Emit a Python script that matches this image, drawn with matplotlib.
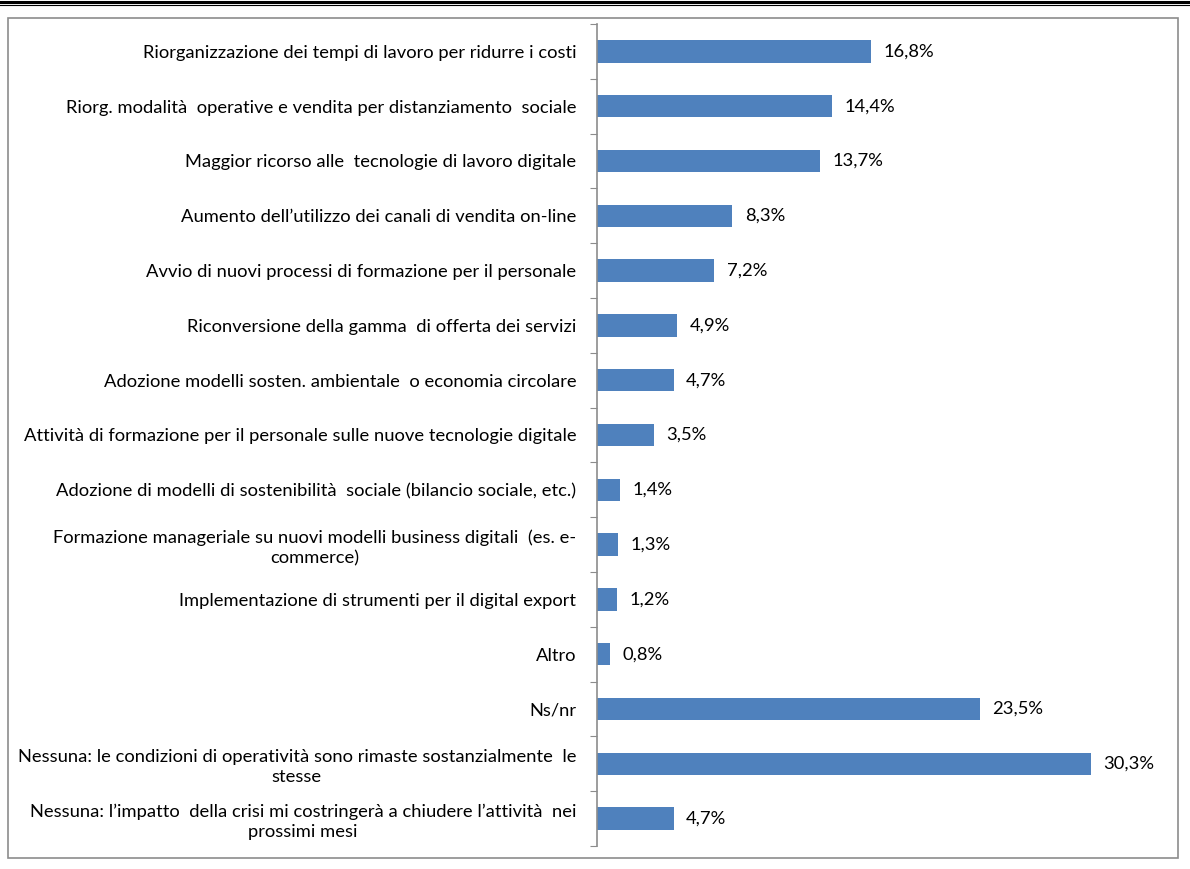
import matplotlib.pyplot as plt
import numpy as np
from matplotlib.patches import Rectangle
from matplotlib.lines import Line2D

categories = [
    "Riorganizzazione dei tempi di lavoro per ridurre i costi",
    "Riorg. modalità  operative e vendita per distanziamento  sociale",
    "Maggior ricorso alle  tecnologie di lavoro digitale",
    "Aumento dell’utilizzo dei canali di vendita on-line",
    "Avvio di nuovi processi di formazione per il personale",
    "Riconversione della gamma  di offerta dei servizi",
    "Adozione modelli sosten. ambientale  o economia circolare",
    "Attività di formazione per il personale sulle nuove tecnologie digitale",
    "Adozione di modelli di sostenibilità  sociale (bilancio sociale, etc.)",
    "Formazione manageriale su nuovi modelli business digitali  (es. e-\ncommerce)",
    "Implementazione di strumenti per il digital export",
    "Altro",
    "Ns/nr",
    "Nessuna: le condizioni di operatività sono rimaste sostanzialmente  le\nstesse",
    "Nessuna: l’impatto  della crisi mi costringerà a chiudere l’attività  nei\nprossimi mesi",
]
values = [16.8, 14.4, 13.7, 8.3, 7.2, 4.9, 4.7, 3.5, 1.4, 1.3, 1.2, 0.8, 23.5, 30.3, 4.7]

plt.rcParams["font.family"] = ["Lato", "DejaVu Sans"]

fig = plt.figure(figsize=(11.9, 8.69), dpi=100)
W, H = 1190, 869

# cornice e doppia linea in alto
fig.patches.append(Rectangle((8 / W, 1 - 858 / H), 1170 / W, 840 / H,
                             transform=fig.transFigure, fill=False,
                             edgecolor="#8c8c8c", linewidth=1.2))
fig.lines.append(Line2D([0, 1], [1 - 1.5 / H] * 2, transform=fig.transFigure,
                        color="black", linewidth=2.2))
fig.lines.append(Line2D([0, 1], [1 - 5 / H] * 2, transform=fig.transFigure,
                        color="black", linewidth=0.8))

ax = fig.add_axes([597 / W, 1 - 846 / H, (1170 - 597) / W, 822 / H])
y = np.arange(len(categories))
ax.barh(y, values, height=0.41, color="#4F81BD")
ax.set_ylim(len(categories) - 0.5, -0.5)
ax.set_xlim(0, (1170 - 597) / 16.3)

for yi, v in zip(y, values):
    ax.annotate(f"{v:.1f}%".replace(".", ","), (v, yi), xytext=(9, 0),
                textcoords="offset points", va="center", ha="left",
                fontsize=13.2)

ax.set_yticks(np.arange(-0.5, len(categories), 1))
ax.set_yticklabels([])
ax.tick_params(axis="y", which="major", length=5, color="#8c8c8c", direction="out")
ax.set_yticks(y, minor=True)
ax.set_yticklabels(categories, minor=True, fontsize=13.2)
ax.tick_params(axis="y", which="minor", length=0, pad=15)
for lab in ax.get_yticklabels(minor=True):
    lab.set_multialignment("center")
    lab.set_linespacing(1.3)

ax.xaxis.set_visible(False)
for s in ["top", "right", "bottom"]:
    ax.spines[s].set_visible(False)
ax.spines["left"].set_color("#8c8c8c")
ax.spines["left"].set_linewidth(1.2)

fig.savefig("out.png", dpi=100)
